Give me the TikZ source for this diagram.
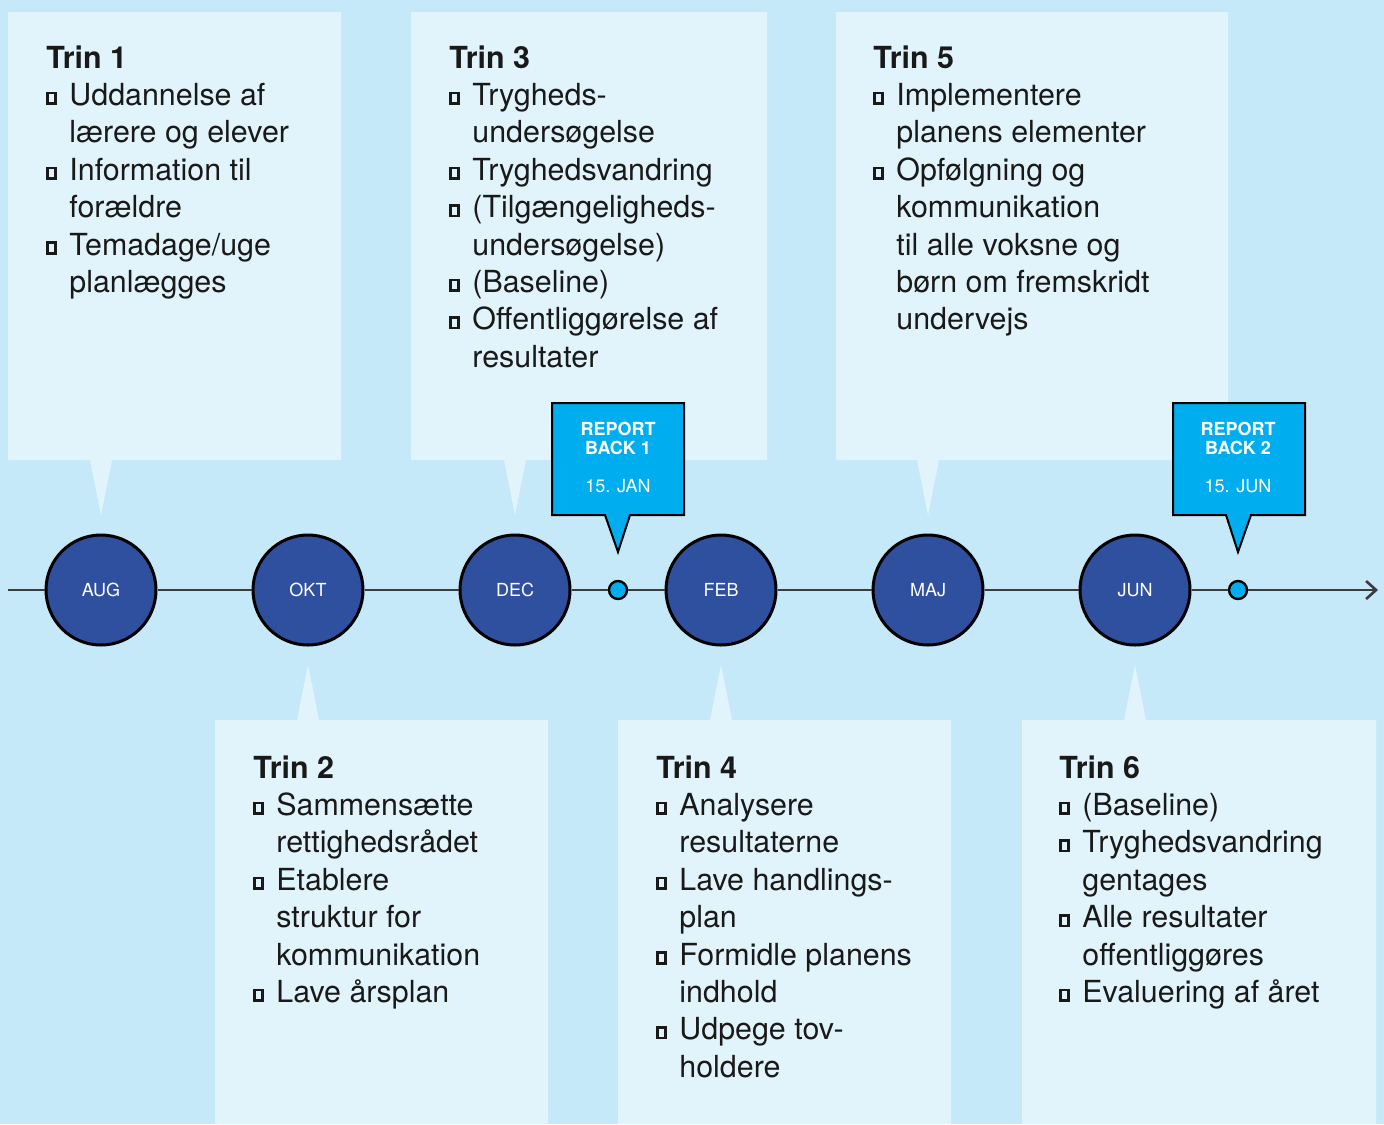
\documentclass[tikz,border=0pt]{standalone}
\usepackage{fontspec}
\setmainfont{TeX Gyre Heros}
\usepackage{tikz}
\usetikzlibrary{arrows.meta}

\definecolor{bgblue}{RGB}{198,233,250}
\definecolor{boxblue}{RGB}{225,244,252}
\definecolor{navy}{RGB}{47,79,159}
\definecolor{cyanb}{RGB}{0,174,239}
\definecolor{lineg}{RGB}{60,60,60}

\newcommand{\bul}{\makebox[11.5pt][l]{\setlength\fboxsep{0pt}\setlength\fboxrule{1.3pt}\raisebox{1.5pt}{\fbox{\rule{0pt}{4pt}\hspace{2.5pt}}}}}
\newcommand{\ind}{\hspace*{11.5pt}}

\begin{document}
\begin{tikzpicture}[x=0.5pt, y=-0.5pt,
    month/.style = {draw, circle, line width=1.5pt, fill=navy, text=white, minimum size=55pt, inner sep=0pt, font=\fontsize{9}{10}\selectfont},
    dot/.style = {draw, circle, line width=1.2pt, fill=cyanb, minimum size=9pt, inner sep=0pt},
    txt/.style = {anchor=north west, align=left, inner sep=0pt, text=black!90, font=\fontsize{15.2}{18.7}\selectfont},
    rbtxt/.style = {anchor=north, align=center, inner sep=0pt, text=white, font=\fontsize{9}{9.5}\selectfont},
    tl/.style = {draw=lineg, line width=1.3pt}]
    \useasboundingbox (0,0) rectangle (1384,1124);
    \fill[bgblue] (0,0) rectangle (1384,1124);

    % boxes over the line
    \fill[boxblue] (8,12) -- (341,12) -- (341,460) -- (112,460) -- (101,515) -- (90,460) -- (8,460) -- cycle;
    \fill[boxblue] (411,12) -- (767,12) -- (767,460) -- (526,460) -- (515,515) -- (504,460) -- (411,460) -- cycle;
    \fill[boxblue] (836,12) -- (1228,12) -- (1228,460) -- (939,460) -- (928,515) -- (917,460) -- (836,460) -- cycle;
    % boxes under the line
    \fill[boxblue] (215,1124) -- (215,720) -- (297,720) -- (308,665) -- (319,720) -- (548,720) -- (548,1124) -- cycle;
    \fill[boxblue] (618,1124) -- (618,720) -- (710,720) -- (721,665) -- (732,720) -- (951,720) -- (951,1124) -- cycle;
    \fill[boxblue] (1022,1124) -- (1022,720) -- (1124,720) -- (1135,665) -- (1146,720) -- (1376,720) -- (1376,1124) -- cycle;

    \node [txt] (t1) at (46,45) {\textbf{Trin 1}\\
        \bul Uddannelse af\\ \ind lærere og elever\\
        \bul Information til\\ \ind forældre\\
        \bul Temadage/uge\\ \ind planlægges};
    \node [txt] (t3) at (449,45) {\textbf{Trin 3}\\
        \bul Trygheds-\\ \ind undersøgelse\\
        \bul Tryghedsvandring\\
        \bul (Tilgængeligheds-\\ \ind undersøgelse)\\
        \bul (Baseline)\\
        \bul Offentliggørelse af\\ \ind resultater};
    \node [txt] (t5) at (873,45) {\textbf{Trin 5}\\
        \bul Implementere\\ \ind planens elementer\\
        \bul Opfølgning og\\ \ind kommunikation\\ \ind til alle voksne og\\ \ind børn om fremskridt\\ \ind undervejs};
    \node [txt] (t2) at (253,755) {\textbf{Trin 2}\\
        \bul Sammensætte\\ \ind rettighedsrådet\\
        \bul Etablere\\ \ind struktur for\\ \ind kommunikation\\
        \bul Lave årsplan};
    \node [txt] (t4) at (656,755) {\textbf{Trin 4}\\
        \bul Analysere\\ \ind resultaterne\\
        \bul Lave handlings-\\ \ind plan\\
        \bul Formidle planens\\ \ind indhold\\
        \bul Udpege tov-\\ \ind holdere};
    \node [txt] (t6) at (1059,755) {\textbf{Trin 6}\\
        \bul (Baseline)\\
        \bul Tryghedsvandring\\ \ind gentages\\
        \bul Alle resultater\\ \ind offentliggøres\\
        \bul Evaluering af året};

    % report back
    \draw[line width=1pt, fill=cyanb] (552,403) -- (684,403) -- (684,515) -- (630,515) -- (618,552) -- (605,515) -- (552,515) -- cycle;
    \draw[line width=1pt, fill=cyanb] (1173,403) -- (1305,403) -- (1305,515) -- (1251,515) -- (1238,552) -- (1226,515) -- (1173,515) -- cycle;
    \node [rbtxt] (r1) at (618,422) {\textbf{REPORT}\\\textbf{BACK 1}\\[9.5pt]15. JAN};
    \node [rbtxt] (r2) at (1238,422) {\textbf{REPORT}\\\textbf{BACK 2}\\[9.5pt]15. JUN};

    % timeline
    \coordinate (s) at (8,590);
    \coordinate (e) at (1378,590);
    \node [month] (aug) at (101,590) {AUG};
    \node [month] (okt) at (308,590) {OKT};
    \node [month] (dec) at (515,590) {DEC};
    \node [dot] (d1) at (618,590) {};
    \node [month] (feb) at (721,590) {FEB};
    \node [month] (maj) at (928,590) {MAJ};
    \node [month] (jun) at (1135,590) {JUN};
    \node [dot] (d2) at (1238,590) {};

    \draw[tl] (s) --  (aug);
    \draw[tl] (aug) --  (okt);
    \draw[tl] (okt) --  (dec);
    \draw[tl] (dec) --  (d1);
    \draw[tl] (d1) --  (feb);
    \draw[tl] (feb) --  (maj);
    \draw[tl] (maj) --  (jun);
    \draw[tl] (jun) --  (d2);
    \draw[tl, -{Straight Barb[length=5pt,width=9pt]}] (d2) --  (e);

\end{tikzpicture}
\end{document}
